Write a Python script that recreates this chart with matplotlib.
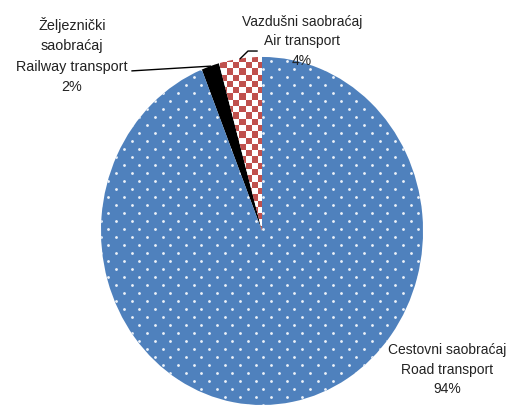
import numpy as np
import matplotlib
matplotlib.use("Agg")
import matplotlib.pyplot as plt
from matplotlib.colors import ListedColormap

plt.rcParams['font.family'] = ['Liberation Sans', 'DejaVu Sans']

# transport shares (%)
labels = ['Vazdušni saobraćaj\nAir transport',
          'Željeznički\nsaobraćaj\nRailway transport',
          'Cestovni saobraćaj\nRoad transport']
shares = [4.3, 1.8, 93.9]
colors = ['white', 'black', '#4F81BD']

W, H = 510, 406
fig = plt.figure(figsize=(W / 100, H / 100), dpi=100)
ax = fig.add_axes([0, 0, 1, 1])

wedges, _ = ax.pie(shares, colors=colors, startangle=90, counterclock=True,
                   wedgeprops=dict(linewidth=0))
air, rail, road = wedges
air.set_edgecolor('white')
air.set_linewidth(1.0)

# pie is stretched a bit taller than wide in the original
ax.set_aspect('auto')
ax.set_xlim(-1.627, 1.540)
ax.set_ylim(-1.0, 1.333)
ax.axis('off')
x0, x1 = ax.get_xlim()
y0, y1 = ax.get_ylim()
sx = (x1 - x0) / W   # data units per pixel
sy = (y1 - y0) / H

# checkerboard fill for the air slice
cell = 6.3
nx, ny = int(W / cell) + 1, int(H / cell) + 1
chk = (np.add.outer(np.arange(ny), np.arange(nx)) % 2).astype(float)
im = ax.imshow(chk, cmap=ListedColormap(['white', '#C0504D']),
               extent=[x0, x0 + nx * cell * sx, y1 - ny * cell * sy, y1],
               aspect='auto', interpolation='nearest',
               zorder=air.get_zorder() + 0.1)
im.set_clip_path(air)
ax.set_xlim(x0, x1)
ax.set_ylim(y0, y1)

# white dot pattern on the road slice
dx, dy = 15.5, 8.0
px, py = [], []
for j in range(int(H / dy) + 2):
    off = dx / 2 if j % 2 else 0
    for i in range(int(W / dx) + 2):
        px.append(i * dx + off)
        py.append(j * dy)
px = x0 + np.array(px) * sx
py = y0 + np.array(py) * sy
dots = ax.scatter(px, py, s=4, color='white', alpha=0.9, linewidths=0,
                  zorder=road.get_zorder() + 0.1)
dots.set_clip_path(road)


def mid_point(w):
    t = np.deg2rad((w.theta1 + w.theta2) / 2)
    return np.cos(t), np.sin(t)


pct = [f'{v:.0f}%' for v in shares]

# labels
ax.text(0.248, 1.095, labels[0] + '\n' + pct[0], ha='center', va='center',
        fontsize=10, linespacing=1.5, color='#222222')
ax.text(-1.180, 1.014, labels[1] + '\n' + pct[1], ha='center', va='center',
        fontsize=10.4, linespacing=1.55, color='#222222')
ax.text(1.149, -0.793, labels[2] + '\n' + pct[2], ha='center', va='center',
        fontsize=10, linespacing=1.5, color='#222222')

# leader lines
rx, ry = mid_point(rail)
ax.plot([-0.807, rx], [0.920, ry], color='black', lw=1.0, zorder=5)
axx, ayy = mid_point(air)
ax.plot([axx, -0.087, -0.031], [ayy, 1.034, 1.034], color='black', lw=1.0,
        zorder=5)

fig.savefig('out.png', dpi=100)
